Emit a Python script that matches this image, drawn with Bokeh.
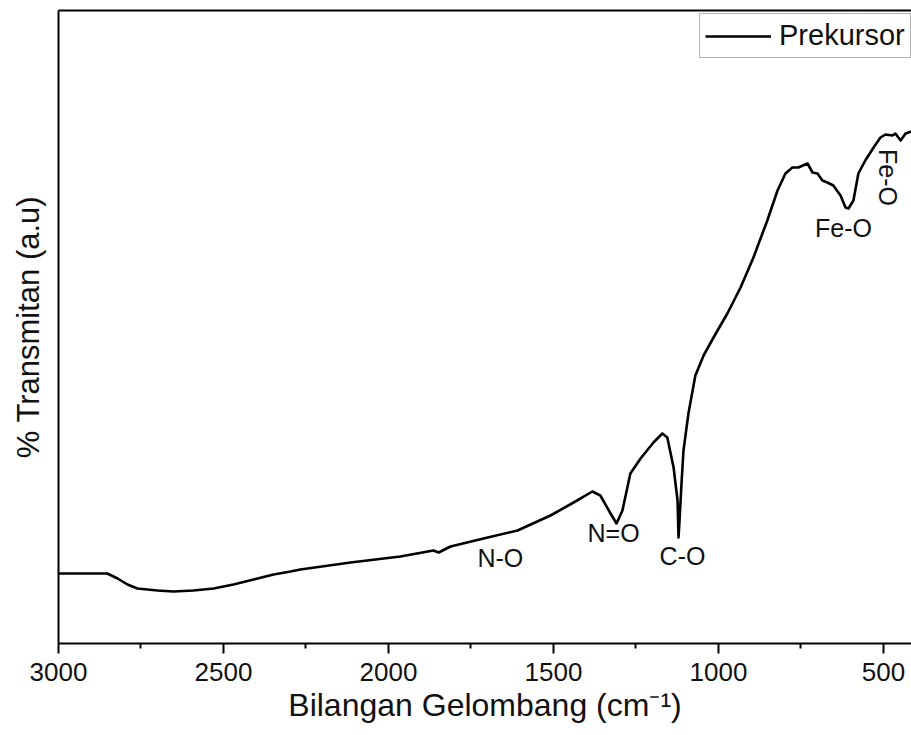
from bokeh.plotting import figure
from bokeh.models import Range1d, LinearAxis, FixedTicker, Legend, LegendItem, ColumnDataSource
from bokeh.core.properties import value
from bokeh.embed import file_html
from bokeh.resources import INLINE
import math

# Wavenumber (cm^-1) and transmittance (a.u.)
wavenumber = [3000, 2852, 2821, 2791, 2761, 2700, 2652, 2591, 2530, 2470, 2409, 2348, 2297, 2267,
              2115, 1964, 1864, 1848, 1812, 1712, 1609, 1509, 1439, 1382, 1358, 1327, 1309, 1291,
              1267, 1236, 1197, 1170, 1155, 1136, 1124, 1121, 1118, 1112, 1106, 1091, 1070, 1045,
              1015, 973, 933, 894, 852, 821, 797, 776, 758, 730, 715, 700, 685, 670, 652, 630,
              615, 606, 591, 576, 555, 530, 509, 494, 473, 464, 448, 433, 415]
transmittance = [70, 70, 65, 59, 55, 53, 52, 53, 55, 59, 64, 69, 72, 74, 81, 87, 93, 91, 97, 105,
                 113, 128, 141, 152, 148, 130, 120, 133, 170, 185, 201, 210, 206, 176, 143, 106,
                 123, 160, 193, 230, 268, 288, 306, 330, 356, 386, 423, 453, 470, 476, 476, 480,
                 471, 470, 463, 461, 458, 448, 436, 435, 443, 470, 483, 496, 506, 509, 508, 510,
                 503, 510, 512]

# Peak annotations
ann_text = ["N-O", "N=O", "C-O", "Fe-O", "Fe-O"]
ann_x = [1661, 1318, 1109, 621, 485]
ann_y = [86, 111, 88, 416, 466]
ann_angle = [0, 0, 0, 0, -math.pi / 2]

x_ticks = [3000, 2500, 2000, 1500, 1000, 500]
x_minor = [2750, 2250, 1750, 1250, 750]

FONT = "Liberation Sans"

p = figure(width=911, height=735, output_backend="svg", toolbar_location=None,
           x_range=Range1d(3000, 415), y_range=Range1d(0, 633),
           min_border_left=58, min_border_right=0, min_border_top=10, min_border_bottom=92,
           background_fill_color="white", border_fill_color="white")
p.grid.visible = False
p.outline_line_color = None

r = p.line(wavenumber, transmittance, line_color="black", line_width=2.6, line_join="round")

src = ColumnDataSource(dict(x=ann_x, y=ann_y, t=ann_text, a=ann_angle))
p.text(x="x", y="y", text="t", angle="a", source=src, text_font=value(FONT),
       text_font_size="25px", text_align="center", text_baseline="middle", text_color="#111111")

xa = p.xaxis[0]
xa.ticker = FixedTicker(ticks=x_ticks, minor_ticks=x_minor)
xa.axis_label = "Bilangan Gelombang (cm\u207b\u00b9)"
xa.axis_label_text_font = FONT
xa.axis_label_text_font_style = "normal"
xa.axis_label_text_font_size = "32px"
xa.axis_label_text_color = "#111111"
xa.axis_label_standoff = 3
xa.major_label_text_font = FONT
xa.major_label_text_font_size = "26px"
xa.major_label_text_color = "#111111"
xa.major_label_standoff = 9
xa.axis_line_width = 2
xa.major_tick_line_width = 2
xa.minor_tick_line_width = 2
xa.major_tick_in = 0
xa.major_tick_out = 10
xa.minor_tick_in = 0
xa.minor_tick_out = 5

ya = p.yaxis[0]
ya.ticker = FixedTicker(ticks=[])
ya.axis_label = "% Transmitan (a.u)"
ya.axis_label_text_font = FONT
ya.axis_label_text_font_style = "normal"
ya.axis_label_text_font_size = "31px"
ya.axis_label_text_color = "#111111"
ya.axis_label_standoff = 13
ya.axis_line_width = 2
ya.major_tick_line_color = None
ya.minor_tick_line_color = None

top = LinearAxis(ticker=FixedTicker(ticks=[]), axis_line_width=2,
                 major_tick_line_color=None, minor_tick_line_color=None,
                 major_label_text_font_size="0px")
p.add_layout(top, "above")

legend = Legend(items=[LegendItem(label="Prekursor", renderers=[r])],
                location=(641, 585), label_text_font=FONT, label_text_font_size="29px",
                label_text_color="#111111", glyph_width=66, label_standoff=8,
                padding=5, margin=0, border_line_color="#666666", border_line_width=1,
                background_fill_alpha=1.0, label_height=30, glyph_height=30)
p.add_layout(legend)

open("out.html", "w").write(file_html(p, INLINE))
